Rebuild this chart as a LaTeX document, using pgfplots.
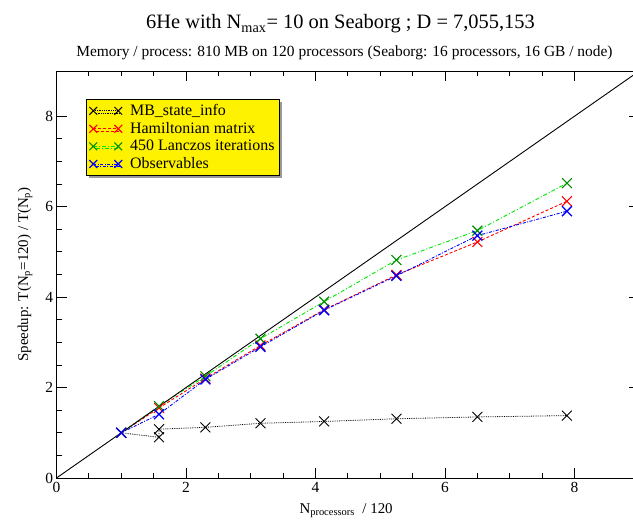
\documentclass[border=0pt]{standalone}
\usepackage{fontspec}
\setmainfont{Liberation Serif}
\usepackage{pgfplots}
\pgfplotsset{compat=1.18}
\usetikzlibrary{shadows}
\definecolor{lgreen}{RGB}{0,230,0}
\definecolor{dgreen}{RGB}{0,140,0}
\begin{document}
\begin{tikzpicture}
\begin{axis}[
  scale only axis,
  width=582.75bp, height=407bp,
  xmin=0, xmax=9, ymin=0, ymax=9,
  xtick={0,2,4,6,8}, ytick={0,2,4,6,8},
  minor x tick num=3, minor y tick num=3,
  tick align=inside,
  major tick length=10bp, minor tick length=5bp,
  axis line style={line width=0.9bp},
  every tick/.style={black, line width=0.8bp},
  /pgf/number format/assume math mode=true,
  tick label style={font=\fontsize{15.5}{18}\selectfont},
  xticklabel style={yshift=-1bp},
  xlabel={N\textsubscript{processors}\ \ / 120},
  ylabel={Speedup: T(N\textsubscript{p}=120) / T(N\textsubscript{p})},
  label style={font=\fontsize{15}{17}\selectfont},
  xlabel style={at={(axis description cs:0.497,-0.055)}, anchor=north},
  ylabel style={at={(axis description cs:-0.054,0.5)}, anchor=center},
  clip=true,
  legend cell align=left,
  legend style={at={(0.0506,0.931)}, anchor=north west, fill=yellow, draw=black,
     line width=0.8bp,
     font=\fontsize{16}{18}\selectfont, row sep=1.3bp, inner xsep=3bp, inner ysep=3bp,
     /tikz/every odd column/.append style={column sep=6bp},
     drop shadow={shadow xshift=2.5bp, shadow yshift=-2.5bp, fill=gray!80, opacity=1}},
  legend image code/.code={\draw[#1, mark size=5.5bp] plot coordinates {(4bp,0bp) (29bp,0bp)};},
]
\addplot[black, line width=0.8bp, densely dotted, mark=x, mark size=7bp, mark options={solid, line width=0.9bp}] coordinates {
(1,1) (1.5833,0.90) (1.5833,1.08) (2.3,1.12) (3.15,1.21) (4.1333,1.25) (5.25,1.31) (6.5,1.35) (7.8833,1.38)};
\addlegendentry{MB\_state\_info}
\addplot[red, line width=0.9bp, dash pattern=on 3bp off 2bp, mark=x, mark size=7bp, mark options={solid, line width=1.1bp}] coordinates {
(1,1) (1.5833,1.55) (2.3,2.2) (3.15,2.93) (4.1333,3.72) (5.25,4.49) (6.5,5.22) (7.8833,6.12)};
\addlegendentry{Hamiltonian matrix}
\addplot[lgreen, line width=0.9bp, dash pattern=on 4bp off 2bp on 1bp off 2bp, mark=x, mark size=7bp, mark options={solid, line width=1.1bp, dgreen}] coordinates {
(1,1) (1.5833,1.59) (2.3,2.25) (3.15,3.08) (4.1333,3.9) (5.25,4.82) (6.5,5.47) (7.8833,6.52)};
\addlegendentry{450 Lanczos iterations}
\addplot[blue, line width=0.9bp, dash pattern=on 3bp off 1.5bp on 1bp off 1.5bp, mark=x, mark size=7bp, mark options={solid, line width=1.3bp}] coordinates {
(1,1) (1.5833,1.41) (2.3,2.18) (3.15,2.90) (4.1333,3.71) (5.25,4.47) (6.5,5.36) (7.8833,5.9)};
\addlegendentry{Observables}
\addplot[black, line width=0.9bp, no marks, forget plot] coordinates {(0,0) (9,9)};
\end{axis}
\node[anchor=base, font=\fontsize{20.5}{24}\selectfont] at (284bp,449bp) {6He with N\textsubscript{max}= 10 on Seaborg ; D = 7,055,153};
\node[anchor=base, font=\fontsize{15.5}{18}\selectfont] at (288bp,421bp) {Memory / process: 810 MB on 120 processors (Seaborg: 16 processors, 16 GB / node)};
\pgfresetboundingbox
\path[use as bounding box] (-56.5bp,-43bp) rectangle (576.5bp,478bp);
\end{tikzpicture}
\end{document}
